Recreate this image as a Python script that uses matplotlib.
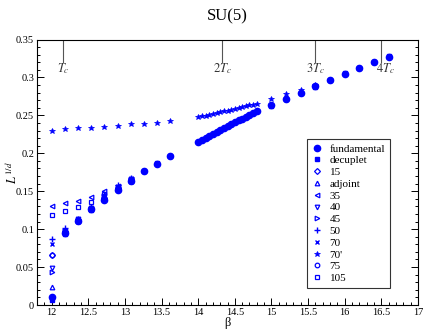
import matplotlib
matplotlib.use('Agg')
import matplotlib.pyplot as plt
from matplotlib.ticker import MultipleLocator

plt.rcParams['font.family'] = ['Liberation Serif', 'DejaVu Serif']
plt.rcParams['mathtext.fontset'] = 'stix'

# beta points
beta_lo = [12.0, 12.18, 12.36, 12.54, 12.72, 12.9, 13.08]
beta_mid = [13.26, 13.44, 13.62]
beta_hi = [14.0, 14.05, 14.1, 14.15, 14.2, 14.25, 14.3, 14.35, 14.4,
           14.45, 14.5, 14.55, 14.6, 14.65, 14.7, 14.75, 14.8]
beta_top = [15.0, 15.2, 15.4, 15.6, 15.8, 16.0, 16.2, 16.4, 16.6]

# L^{1/d} per representation
fund_lo = [0.010, 0.095, 0.111, 0.126, 0.139, 0.152, 0.164]
fund_mid = [0.176, 0.186, 0.196]
fund_hi = [0.2155, 0.218, 0.2205, 0.223, 0.2258, 0.228, 0.2307, 0.2333, 0.236,
           0.2383, 0.241, 0.2434, 0.2458, 0.2485, 0.251, 0.2535, 0.256]
fund_top = [0.264, 0.272, 0.280, 0.289, 0.297, 0.305, 0.313, 0.320, 0.327]

dec_lo = [0.007, 0.093, 0.112, 0.125, 0.140, 0.153, 0.166]
dec_mid = [0.177, 0.187, 0.197]
dec_top = [0.263, 0.271, 0.279, 0.288, 0.297, 0.306, 0.313, 0.321, 0.328]

rep15_lo = [0.066, 0.097, 0.112, 0.127, 0.141, 0.154, 0.165]
adj_lo = [0.024, 0.096, 0.111, 0.126, 0.140, 0.153, 0.164]
rep35_lo = [0.130, 0.134, 0.137, 0.142, 0.150, 0.157, 0.166]
rep40_lo = [0.049, 0.098, 0.113, 0.128, 0.143, 0.156, 0.166]
rep45_lo = [0.044, 0.097, 0.112, 0.127, 0.142, 0.155, 0.165]
rep50_lo = [0.087, 0.101, 0.114, 0.129, 0.146, 0.158, 0.167]
rep70_lo = [0.080, 0.099, 0.113, 0.128, 0.144, 0.156, 0.166]
rep75_lo = [0.066, 0.096, 0.111, 0.127, 0.141, 0.154, 0.165]
rep105_lo = [0.118, 0.124, 0.129, 0.136, 0.146, 0.153, 0.165]

rep70p_lo = [0.2295, 0.2317, 0.2333, 0.234, 0.235, 0.2366, 0.238]
rep70p_mid = [0.2388, 0.2400, 0.2423]
rep70p_hi = [0.2476, 0.2487, 0.2498, 0.2508, 0.252, 0.2531, 0.254, 0.2552, 0.2563,
             0.2575, 0.2585, 0.2597, 0.2608, 0.262, 0.2631, 0.2642, 0.2655]
rep70p_top = [0.271, 0.278, 0.2836, 0.290]

marks = [r'$T_c$', r'$2T_c$', r'$3T_c$', r'$4T_c$']
mark_beta = [12.16, 14.33, 15.6, 16.5]

blue = '#0000ff'
fig = plt.figure(figsize=(4.24, 3.32), dpi=100)
ax = fig.add_axes([0.0873, 0.0813, 0.8986, 0.7997])

ms = 4.5
ax.plot(beta_lo + beta_mid + beta_hi + beta_top, fund_lo + fund_mid + fund_hi + fund_top,
        'o', color=blue, ms=ms, label='fundamental')
ax.plot(beta_lo + beta_mid + beta_top, dec_lo + dec_mid + dec_top,
        's', color=blue, ms=3.3, label='decuplet')
ax.plot(beta_lo, rep15_lo, 'D', mfc='none', mec=blue, ms=3.0, mew=0.9, label='15')
ax.plot(beta_lo, adj_lo, '^', mfc='none', mec=blue, ms=3.3, mew=0.9, label='adjoint')
ax.plot(beta_lo, rep35_lo, '<', mfc='none', mec=blue, ms=3.3, mew=0.9, label='35')
ax.plot(beta_lo, rep40_lo, 'v', mfc='none', mec=blue, ms=3.3, mew=0.9, label='40')
ax.plot(beta_lo, rep45_lo, '>', mfc='none', mec=blue, ms=3.3, mew=0.9, label='45')
ax.plot(beta_lo, rep50_lo, '+', color=blue, ms=5, mew=1.0, label='50')
ax.plot(beta_lo, rep70_lo, 'x', color=blue, ms=3.3, mew=1.0, label='70')
ax.plot(beta_lo + beta_mid + beta_hi + beta_top[:4], rep70p_lo + rep70p_mid + rep70p_hi + rep70p_top,
        '*', color=blue, ms=4.0, mew=0.5, label="70'")
ax.plot(beta_lo, rep75_lo, 'o', mfc='none', mec=blue, ms=3.3, mew=0.9, label='75')
ax.plot(beta_lo, rep105_lo, 's', mfc='none', mec=blue, ms=3.3, mew=0.9, label='105')

for b, m in zip(mark_beta, marks):
    ax.plot([b, b], [0.35, 0.321], color='#555555', lw=0.8)
    ax.text(b + (0.05 if b > 16 else 0), 0.311, m, ha='center', va='center',
            fontsize=9, color='#333333')

ax.set_xlim(11.8, 17)
ax.set_ylim(0, 0.35)
ax.xaxis.set_major_locator(MultipleLocator(0.5))
ax.xaxis.set_minor_locator(MultipleLocator(0.1))
ax.yaxis.set_major_locator(MultipleLocator(0.05))
ax.yaxis.set_minor_locator(MultipleLocator(0.01))
ax.xaxis.set_major_formatter(plt.FuncFormatter(lambda v, p: ('%g' % v)))
ax.yaxis.set_major_formatter(plt.FuncFormatter(lambda v, p: ('%g' % v)))
ax.tick_params(which='both', direction='in', right=True, top=False, labelsize=7.5,
               width=0.7, pad=2)
ax.tick_params(which='major', length=5)
ax.tick_params(which='minor', length=2.5)
for s in ax.spines.values():
    s.set_linewidth(0.8)

ax.set_xlabel('β', fontsize=9)
ax.set_ylabel(r'$L^{\,1/d}$', fontsize=9)
ax.xaxis.set_label_coords(0.5, -0.045)
ax.yaxis.set_label_coords(-0.045, 0.5)
ax.set_title('SU(5)', fontsize=12, pad=14)

leg = ax.legend(loc='upper left', bbox_to_anchor=(0.695, 0.645), fontsize=8,
                frameon=True, fancybox=False, edgecolor='black', handlelength=1.0,
                handletextpad=0.6, labelspacing=0.18, borderpad=0.4, numpoints=1)
leg.get_frame().set_linewidth(0.8)

fig.savefig('out.png', dpi=100)
